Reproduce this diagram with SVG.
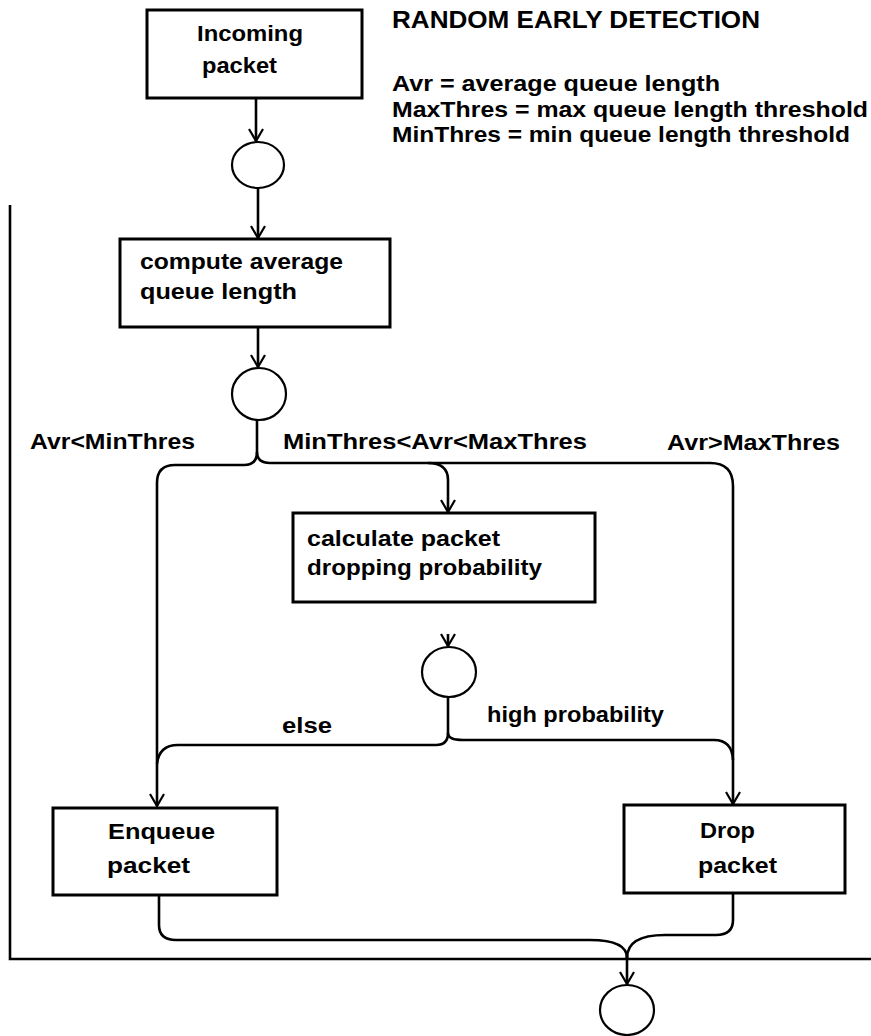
<svg xmlns="http://www.w3.org/2000/svg" width="871" height="1036" viewBox="0 0 871 1036">
<defs>
<marker id="arr" markerWidth="20" markerHeight="16" refX="13" refY="8" orient="auto" markerUnits="userSpaceOnUse">
<path d="M1 1 L13 8 L1 15" fill="none" stroke="#000" stroke-width="2.2"/>
</marker>
<style>
.box{fill:#fff;stroke:#000;stroke-width:3}
.node{fill:#fff;stroke:#000;stroke-width:2.2}
.t{font-family:"Liberation Sans",Arial,sans-serif;font-weight:bold;font-size:22px;fill:#000}
.h{font-size:23px}
.ln{fill:none;stroke:#000;stroke-width:2.6}
.ar{marker-end:url(#arr)}
</style>
</defs>
<rect width="871" height="1036" fill="#fff"/>

<g id="frame">
<path class="ln" d="M10 205 V959 H871"/>
</g>

<g id="legend">
<text class="t h" x="392" y="28" textLength="368" lengthAdjust="spacingAndGlyphs">RANDOM EARLY DETECTION</text>
<text class="t" x="392" y="91" textLength="328" lengthAdjust="spacingAndGlyphs">Avr = average queue length</text>
<text class="t" x="392" y="117" textLength="476" lengthAdjust="spacingAndGlyphs">MaxThres = max queue length threshold</text>
<text class="t" x="392" y="142" textLength="458" lengthAdjust="spacingAndGlyphs">MinThres = min queue length threshold</text>
</g>

<g id="connectors">
<path class="ln ar" d="M256 98 V141"/>
<path class="ln ar" d="M258 188 V238"/>
<path class="ln ar" d="M258 327 V367"/>
<path class="ln" d="M257 420 V452"/>
<path class="ln ar" d="M257 452 Q257 465 244 465 H175 Q157 465 157 483 V806"/>
<path class="ln ar" d="M257 452 Q257 463 270 463 H710 Q733 463 733 486 V804"/>
<path class="ln ar" d="M428 463 Q448 463 448 480 V512"/>
<path class="ln ar" d="M448 634 V646"/>
<path class="ln" d="M448 697 V733"/>
<path class="ln" d="M448 733 Q448 745 436 745 H178 Q159 745 157 764"/>
<path class="ln" d="M448 733 Q448 740 463 740 H714 Q732 740 733 760"/>
<path class="ln" d="M159 895 V925 Q159 940 176 940 H590 Q627 940 627 958"/>
<path class="ln" d="M733 893 V920 Q733 935 716 935 H665 Q627 935 627 958"/>
<path class="ln ar" d="M627 955 V984"/>
</g>

<g id="incoming">
<rect class="box" x="147" y="10" width="215" height="88"/>
<text class="t" x="197" y="41" textLength="106" lengthAdjust="spacingAndGlyphs">Incoming</text>
<text class="t" x="202" y="73" textLength="75" lengthAdjust="spacingAndGlyphs">packet</text>
</g>

<g id="merge1">
<ellipse class="node" cx="258" cy="165" rx="26" ry="23"/>
</g>

<g id="compute">
<rect class="box" x="120" y="239" width="270" height="88"/>
<text class="t" x="140" y="269" textLength="203" lengthAdjust="spacingAndGlyphs">compute average</text>
<text class="t" x="140" y="299" textLength="157" lengthAdjust="spacingAndGlyphs">queue length</text>
</g>

<g id="decision1">
<ellipse class="node" cx="259" cy="394" rx="27" ry="26"/>
</g>

<g id="labels">
<text class="t" x="30" y="449" textLength="165" lengthAdjust="spacingAndGlyphs">Avr&lt;MinThres</text>
<text class="t" x="283" y="449" textLength="304" lengthAdjust="spacingAndGlyphs">MinThres&lt;Avr&lt;MaxThres</text>
<text class="t" x="667" y="450" textLength="173" lengthAdjust="spacingAndGlyphs">Avr&gt;MaxThres</text>
<text class="t" x="282" y="733" textLength="50" lengthAdjust="spacingAndGlyphs">else</text>
<text class="t" x="487" y="722" textLength="177" lengthAdjust="spacingAndGlyphs">high probability</text>
</g>

<g id="calculate">
<rect class="box" x="293" y="513" width="302" height="89"/>
<text class="t" x="307" y="546" textLength="193" lengthAdjust="spacingAndGlyphs">calculate packet</text>
<text class="t" x="307" y="575" textLength="235" lengthAdjust="spacingAndGlyphs">dropping probability</text>
</g>

<g id="decision2">
<ellipse class="node" cx="449" cy="672" rx="27" ry="25"/>
</g>

<g id="enqueue">
<rect class="box" x="53" y="808" width="224" height="87"/>
<text class="t" x="108" y="839" textLength="107" lengthAdjust="spacingAndGlyphs">Enqueue</text>
<text class="t" x="107" y="873" textLength="83" lengthAdjust="spacingAndGlyphs">packet</text>
</g>

<g id="drop">
<rect class="box" x="624" y="805" width="221" height="88"/>
<text class="t" x="700" y="838" textLength="55" lengthAdjust="spacingAndGlyphs">Drop</text>
<text class="t" x="698" y="873" textLength="79" lengthAdjust="spacingAndGlyphs">packet</text>
</g>

<g id="final">
<ellipse class="node" cx="627" cy="1010" rx="27" ry="25"/>
</g>
</svg>
